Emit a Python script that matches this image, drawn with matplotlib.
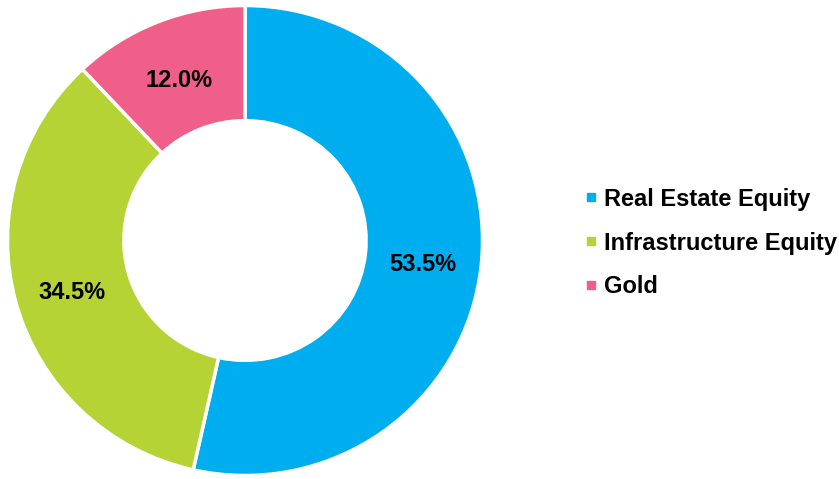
import matplotlib.pyplot as plt
from matplotlib.lines import Line2D

# Asset allocation
categories = ["Real Estate Equity", "Infrastructure Equity", "Gold"]
shares = [53.5, 34.5, 12.0]
colors = ["#00AEEF", "#B5D334", "#F05E8A"]

plt.rcParams['font.family'] = ['Liberation Sans', 'DejaVu Sans']

W, H = 839, 479
fig = plt.figure(figsize=(W / 100, H / 100), dpi=100)

# Donut: centre (245, 240.5) px, slightly wider than tall
cx, cy, Rx, Ry = 245, 240.5, 237.5, 235
ax = fig.add_axes([(cx - Rx) / W, (H - cy - Ry) / H, 2 * Rx / W, 2 * Ry / H])

wedges, texts, autotexts = ax.pie(
    shares, colors=colors, startangle=90, counterclock=False,
    radius=1, autopct=lambda p: f"{p:.1f}%", pctdistance=0.755,
    wedgeprops=dict(width=0.49, edgecolor="white", linewidth=2.5),
    textprops=dict(fontsize=17, fontweight="bold", color="black"))

# nudge the percentage labels down a little
for t in autotexts:
    x, y = t.get_position()
    t.set_position((x, y - 5 / Ry))

ax.set_xlim(-1, 1)
ax.set_ylim(-1, 1)
ax.set_aspect("auto")
ax.axis("off")

handles = [Line2D([], [], marker="s", linestyle="none", markersize=5.5,
                  markerfacecolor=c, markeredgecolor=c) for c in colors]
fig.legend(handles, categories, loc="center left",
           bbox_to_anchor=(585 / W, 1 - 243 / H), frameon=False,
           prop=dict(size=17, weight="bold"), handlelength=0.5,
           handletextpad=0.3, labelspacing=0.88, borderpad=0, borderaxespad=0)

fig.savefig("out.png", dpi=100)
